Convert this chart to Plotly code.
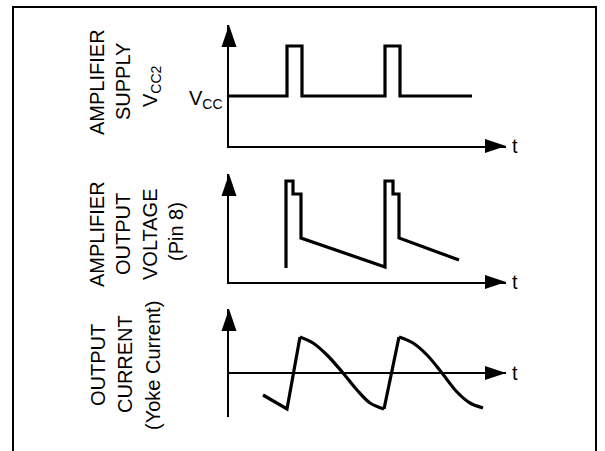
import plotly.graph_objects as go

W, H = 605, 451
FONT = "Arial, Liberation Sans, sans-serif"

# ---------------- data (time units: arbitrary, axis origin at t=0) -------------
# Panel 1: amplifier supply (1 = Vcc, 2 = Vcc2)
supply_t = [0, 5.8, 5.8, 7.3, 7.3, 15.6, 15.6, 17.1, 17.1, 24.3]
supply_v = [1, 1, 2, 2, 1, 1, 2, 2, 1, 1]

# Panel 2: amplifier output voltage (pin 8)
vout_t = [5.7, 5.7, 6.4, 6.4, 7.2, 7.2, 15.6, 15.6, 16.4, 16.4, 17.0, 17.0, 23.0]
vout_v = [1.4, 10.1, 10.1, 8.8, 8.8, 4.4, 1.5, 10.1, 10.1, 8.8, 8.8, 4.4, 2.2]

# Panel 3: output (yoke) current
iret1_t = [3.4, 5.8, 7.1]
iret1_v = [-2.2, -3.6, 3.6]
iscan1_t = [7.1, 8.4, 9.8, 11.4, 12.8, 14.1, 15.5]
iscan1_v = [3.6, 3.0, 1.8, 0.0, -1.7, -3.0, -3.6]
iret2_t = [15.5, 17.0]
iret2_v = [-3.6, 3.6]
iscan2_t = [17.0, 18.4, 19.8, 21.3, 22.8, 24.1, 25.4]
iscan2_v = [3.6, 3.0, 1.8, 0.0, -1.9, -3.0, -3.5]

# axis ranges per panel
x_range = [0, 27.7]
p1_yrange = [0, 2.42]
p2_yrange = [0, 10.8]
p3_yrange = [-4.4, 6.4]

panel1_labels = ["AMPLIFIER", "SUPPLY", "V<sub>CC2</sub>"]
panel2_labels = ["AMPLIFIER", "OUTPUT", "VOLTAGE", "(Pin 8)"]
panel3_labels = ["OUTPUT", "CURRENT", "(Yoke Current)"]

# ---------------- figure --------------------------------------------------------
def fx(px):
    return px / W

def fy(py):
    return (H - py) / H

fig = go.Figure()
LW = 3.2
line = dict(color="black", width=LW)

fig.add_trace(go.Scatter(x=supply_t, y=supply_v, mode="lines", line=line,
                         xaxis="x", yaxis="y"))
fig.add_trace(go.Scatter(x=vout_t, y=vout_v, mode="lines", line=line,
                         xaxis="x2", yaxis="y2"))
for tt, vv, shp in [(iret1_t, iret1_v, "linear"), (iscan1_t, iscan1_v, "spline"),
                    (iret2_t, iret2_v, "linear"), (iscan2_t, iscan2_v, "spline")]:
    fig.add_trace(go.Scatter(x=tt, y=vv, mode="lines",
                             line=dict(color="black", width=LW, shape=shp),
                             xaxis="x3", yaxis="y3"))

xdom = [fx(229), fx(506)]
ydoms = [[fy(146), fy(25)], [fy(282), fy(174)], [fy(417), fy(309)]]
ax_common = dict(showgrid=False, showticklabels=False, ticks="",
                 linecolor="black", linewidth=1.6, fixedrange=True)

layout = dict(
    width=W, height=H, margin=dict(l=0, r=0, t=0, b=0),
    paper_bgcolor="white", plot_bgcolor="rgba(0,0,0,0)",
    showlegend=False,
    xaxis=dict(domain=xdom, range=x_range, anchor="y", showline=True,
               zeroline=False, **ax_common),
    yaxis=dict(domain=ydoms[0], range=p1_yrange, anchor="x",
               showline=True, zeroline=False, **ax_common),
    xaxis2=dict(domain=xdom, range=x_range, anchor="y2", showline=True,
                zeroline=False, **ax_common),
    yaxis2=dict(domain=ydoms[1], range=p2_yrange, anchor="x2",
                showline=True, zeroline=False, **ax_common),
    xaxis3=dict(domain=xdom, range=x_range, anchor="y3", showline=False,
                zeroline=False, **ax_common),
    yaxis3=dict(domain=ydoms[2], range=p3_yrange, anchor="x3",
                showline=True, zeroline=True, zerolinecolor="black",
                zerolinewidth=1.6, **ax_common),
)
fig.update_layout(**layout)

shapes = []
# arrow heads at the axis ends (paper refs so they are not clipped)
for (yd, yrng) in zip(ydoms, [p1_yrange, p2_yrange, p3_yrange]):
    y_zero = yd[0] + (0 - yrng[0]) / (yrng[1] - yrng[0]) * (yd[1] - yd[0])
    shapes.append(dict(type="path", xref="paper", yref="paper", xsizemode="pixel",
                       ysizemode="pixel", xanchor=xdom[0], yanchor=yd[1],
                       path="M-7.5,-22 L7.5,-22 L0,0 Z",
                       fillcolor="black", line=dict(width=0)))
    shapes.append(dict(type="path", xref="paper", yref="paper", xsizemode="pixel",
                       ysizemode="pixel", xanchor=xdom[1], yanchor=y_zero,
                       path="M-21,-7 L-21,7 L0,0 Z",
                       fillcolor="black", line=dict(width=0)))
# frame (open at bottom)
shapes.append(dict(type="path", xref="paper", yref="paper",
                   path=f"M{fx(13)},-0.1 L{fx(13)},{fy(7)} L{fx(596)},{fy(7)} L{fx(596)},-0.1",
                   line=dict(color="black", width=2)))
fig.update_layout(shapes=shapes)

ann = []
def vlabel(text, px, py):
    ann.append(dict(text=text, x=fx(px), y=fy(py), xref="paper", yref="paper",
                    textangle=-90, showarrow=False, xanchor="center",
                    yanchor="middle", font=dict(family=FONT, size=20, color="black")))

for txt, px, py in zip(panel1_labels, [97, 123, 151], [82, 82, 86]):
    vlabel(txt, px, py)
for txt, px, py in zip(panel2_labels, [97, 123, 150, 176], [234, 234, 234, 232]):
    vlabel(txt, px, py)
for txt, px, py in zip(panel3_labels, [98, 125, 153], [365, 364, 366]):
    vlabel(txt, px, py)

# Vcc level label
ann.append(dict(text="V<sub>CC</sub>", x=0, y=1, xref="x", yref="y",
                xanchor="right", yanchor="middle", xshift=-4, yshift=-3,
                showarrow=False, font=dict(family=FONT, size=20, color="black")))
# time labels
for xr, yr in [("x", "y"), ("x2", "y2"), ("x3", "y3")]:
    ann.append(dict(text="t", x=x_range[1], y=0, xref=xr, yref=yr,
                    xanchor="left", yanchor="middle", xshift=4, showarrow=False,
                    font=dict(family=FONT, size=20, color="black")))
fig.update_layout(annotations=ann)

fig.write_html("out.html", config={"displayModeBar": False},
               post_script="document.body.style.margin='0';")
